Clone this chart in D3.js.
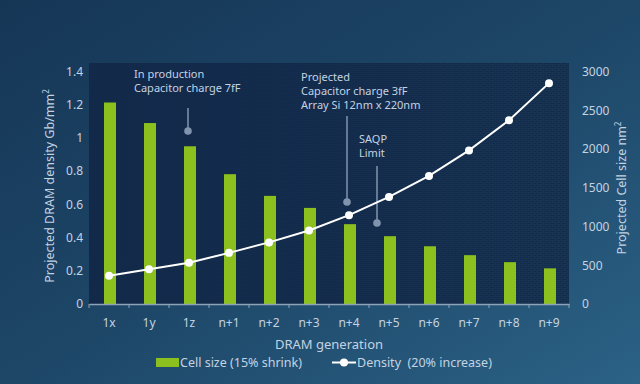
<!DOCTYPE html>
<html><head><meta charset="utf-8">
<script src="https://cdn.jsdelivr.net/npm/d3@7"></script>
<style>html,body{margin:0;padding:0;background:#1d4566;overflow:hidden}svg{display:block}</style>
</head><body>
<svg id="chart" width="640" height="384"></svg>
<script>
const categories = ["1x","1y","1z","n+1","n+2","n+3","n+4","n+5","n+6","n+7","n+8","n+9"];
const cellSize = [2600,2335,2035,1675,1395,1240,1030,875,745,630,540,460];
const density = [0.170,0.209,0.248,0.308,0.371,0.443,0.535,0.645,0.771,0.925,1.106,1.330];
const leftTicks = [0,0.2,0.4,0.6,0.8,1,1.2,1.4];
const rightTicks = [0,500,1000,1500,2000,2500,3000];
const annotations = [
  {lines:["In production","Capacitor charge 7fF"], cat:"1z", y:0.0},
  {lines:["Projected","Capacitor charge 3fF","Array Si 12nm x 220nm"], cat:"n+4"},
  {lines:["SAQP","Limit"], cat:"n+5"}
];

const svg = d3.select("#chart");
const W=640,H=384;
const m={l:89,r:71,t:63,b:80};
const pw=W-m.l-m.r, ph=H-m.t-m.b;
const font="'Noto Sans', 'Open Sans', sans-serif";
const txt="#c3d3e2";

const defs=svg.append("defs");
const bg=defs.append("linearGradient").attr("id","bg").attr("x1","0").attr("y1","0").attr("x2","1").attr("y2","1");
bg.append("stop").attr("offset","0").attr("stop-color","#163656");
bg.append("stop").attr("offset","0.5").attr("stop-color","#1d4667");
bg.append("stop").attr("offset","1").attr("stop-color","#2b6286");
const pat=defs.append("pattern").attr("id","brick").attr("width",6).attr("height",4).attr("patternUnits","userSpaceOnUse");
pat.append("rect").attr("width",6).attr("height",4).attr("fill","#132b4b");
pat.append("path").attr("d","M0 0.5H6M0 2.5H6M0.5 0V2M3.5 2V4").attr("stroke","#1b3858").attr("stroke-width",1).attr("opacity",0.7);
const pg=defs.append("linearGradient").attr("id","pfade").attr("x1","0").attr("y1","0").attr("x2","1").attr("y2","0");
pg.append("stop").attr("offset","0").attr("stop-color","#12294a").attr("stop-opacity",1);
pg.append("stop").attr("offset","0.55").attr("stop-color","#12294a").attr("stop-opacity",0.6);
pg.append("stop").attr("offset","1").attr("stop-color","#12294a").attr("stop-opacity",0);

svg.append("rect").attr("width",W).attr("height",H).attr("fill","url(#bg)");

const x=d3.scaleBand().domain(categories).range([m.l,m.l+pw]);
const yL=d3.scaleLinear().domain([0,1.4]).range([m.t+ph,m.t+8.5]);
const yR=d3.scaleLinear().domain([0,3000]).range([m.t+ph,m.t+8.5]);

svg.append("rect").attr("x",m.l).attr("y",m.t).attr("width",pw).attr("height",ph).attr("fill","url(#brick)");
svg.append("rect").attr("x",m.l).attr("y",m.t).attr("width",pw).attr("height",ph).attr("fill","url(#pfade)");

// bars
const bw=12;
svg.append("g").selectAll("rect").data(categories).join("rect")
  .attr("x",d=>x(d)+x.bandwidth()/2-bw/2+1)
  .attr("y",(d,i)=>yR(cellSize[i]))
  .attr("width",bw)
  .attr("height",(d,i)=>yR(0)-yR(cellSize[i]))
  .attr("fill","#8cc01e");

// x axis
const xa=svg.append("g").attr("transform",`translate(0,${m.t+ph})`)
  .call(d3.axisBottom(x).tickSize(0).tickPadding(14));
xa.select(".domain").attr("stroke","#8fa3b8").attr("stroke-width",1.5);
xa.selectAll("text").attr("fill",txt).attr("font-size",12).attr("font-family",font);
const bounds=categories.map(c=>x(c)).concat([m.l+pw]);
svg.append("g").selectAll("line").data(bounds).join("line")
  .attr("x1",d=>d).attr("x2",d=>d).attr("y1",m.t+ph).attr("y2",m.t+ph+4)
  .attr("stroke","#8fa3b8").attr("stroke-width",1);

// left axis
const la=svg.append("g").attr("transform",`translate(${m.l-6},0)`)
  .call(d3.axisLeft(yL).tickValues(leftTicks).tickSize(0).tickPadding(0).tickFormat(d3.format("~g")));
la.select(".domain").remove();
la.selectAll("text").attr("fill",txt).attr("font-size",12).attr("font-family",font);
// right axis
const ra=svg.append("g").attr("transform",`translate(${m.l+pw+13},0)`)
  .call(d3.axisRight(yR).tickValues(rightTicks).tickSize(0).tickPadding(0).tickFormat(d3.format("d")));
ra.select(".domain").remove();
ra.selectAll("text").attr("fill",txt).attr("font-size",12).attr("font-family",font);

// axis titles
const lt=svg.append("text").attr("transform","translate(54,186) rotate(-90)").attr("text-anchor","middle")
  .attr("fill",txt).attr("font-size",12.5).attr("font-family",font);
lt.append("tspan").text("Projected DRAM density Gb/mm");
lt.append("tspan").text("2").attr("font-size",8).attr("dy",-5);
const rt=svg.append("text").attr("transform","translate(626,188) rotate(-90)").attr("text-anchor","middle")
  .attr("fill",txt).attr("font-size",12.5).attr("font-family",font);
rt.append("tspan").text("Projected Cell size nm");
rt.append("tspan").text("2").attr("font-size",8).attr("dy",-5);
svg.append("text").attr("x",m.l+pw/2).attr("y",349).attr("text-anchor","middle")
  .attr("fill",txt).attr("font-size",13).attr("font-family",font).text("DRAM generation");

// annotations
const pinColor="#8194ad";
const ann=[
  {a:annotations[0], tx:134, ty:78, px:188, y1:108, y2:131},
  {a:annotations[1], tx:301, ty:81, px:347, y1:116, y2:202},
  {a:annotations[2], tx:359, ty:143, px:377, y1:166, y2:223}
];
ann.forEach(o=>{
  const t=svg.append("text").attr("x",o.tx).attr("y",o.ty).attr("fill",txt).attr("font-size",11).attr("font-family",font);
  o.a.lines.forEach((l,i)=>t.append("tspan").attr("x",o.tx).attr("dy",i?13.8:0).text(l));
  svg.append("line").attr("x1",o.px).attr("x2",o.px).attr("y1",o.y1).attr("y2",o.y2).attr("stroke",pinColor).attr("stroke-width",1.5);
  svg.append("circle").attr("cx",o.px).attr("cy",o.y2).attr("r",3.8).attr("fill",pinColor);
});

// density line
const line=d3.line().x((d,i)=>x(categories[i])+x.bandwidth()/2).y(d=>yL(d));
svg.append("path").datum(density).attr("d",line).attr("fill","none").attr("stroke","#fff").attr("stroke-width",2);
svg.append("g").selectAll("circle").data(density).join("circle")
  .attr("cx",(d,i)=>x(categories[i])+x.bandwidth()/2).attr("cy",d=>yL(d)).attr("r",4).attr("fill","#fff");

// legend
svg.append("rect").attr("x",156).attr("y",358).attr("width",23).attr("height",9).attr("fill","#8cc01e");
svg.append("text").attr("x",180).attr("y",366.5).attr("fill",txt).attr("font-size",12.5).attr("font-family",font).text("Cell size (15% shrink)");
svg.append("line").attr("x1",332).attr("x2",356).attr("y1",362.5).attr("y2",362.5).attr("stroke","#fff").attr("stroke-width",2);
svg.append("circle").attr("cx",344).attr("cy",362.5).attr("r",4).attr("fill","#fff");
svg.append("text").attr("x",357).attr("y",366.5).attr("fill",txt).attr("font-size",12.5).attr("font-family",font).attr("xml:space","preserve").text("Density  (20% increase)");
</script>
</body></html>
